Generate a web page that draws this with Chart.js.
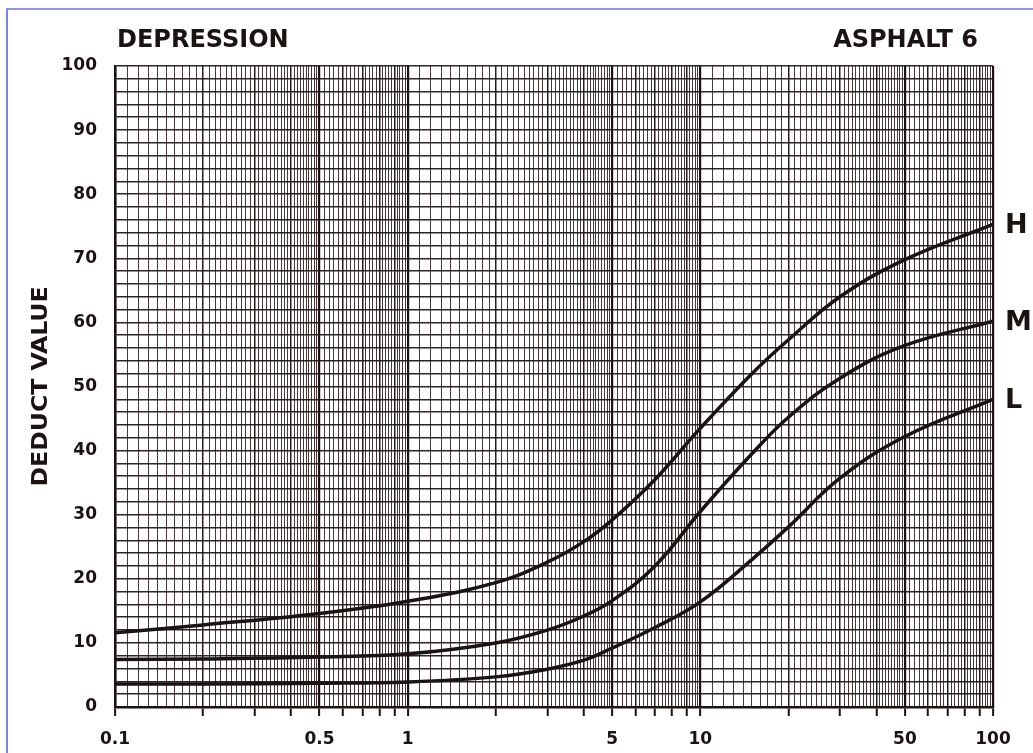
<!DOCTYPE html>
<html>
<head>
    <meta charset="utf-8">
    <title>Depression - Asphalt 6</title>
    <script src="https://cdn.jsdelivr.net/npm/chart.js@4.4.0/dist/chart.umd.min.js"></script>
    <style>
        html, body { margin: 0; padding: 0; background: #fff; }
        #wrap { position: relative; width: 1033px; height: 753px; }
        #frame { position: absolute; left: 6px; top: 8px; right: 0; bottom: 0; border-left: 2px solid #7684e4; border-top: 2px solid #8d97e6; pointer-events: none; }
    </style>
</head>
<body>
    <div id="wrap">
        <canvas id="myChart" width="1033" height="753"></canvas>
        <div id="frame"></div>
    </div>
    <script>
        // values
        const chartTitle = 'DEPRESSION';
        const chartNumber = 'ASPHALT 6';
        const yTitle = 'DEDUCT VALUE';
        const density = [0.1, 0.2, 0.5, 1, 2, 3, 4, 5, 7, 10, 15, 20, 30, 50, 100];
        const highValues = [11.6, 12.8, 14.6, 16.5, 19.4, 22.6, 25.8, 29.2, 35.5, 43.5, 52.0, 57.3, 64.0, 69.8, 75.3];
        const mediumValues = [7.4, 7.5, 7.8, 8.3, 10.0, 12.0, 14.2, 16.6, 22.0, 30.5, 39.5, 45.2, 51.3, 56.4, 60.2];
        const lowValues = [3.6, 3.6, 3.7, 3.9, 4.7, 5.9, 7.3, 9.2, 12.4, 16.4, 23.0, 28.1, 35.7, 42.2, 48.0];
        const seriesNames = ['H', 'M', 'L'];
        const xTickLabels = [0.1, 0.5, 1, 5, 10, 50, 100];
        const yTickLabels = [0, 10, 20, 30, 40, 50, 60, 70, 80, 90, 100];

        const ink = '#1b1212';
        const seriesValues = [highValues, mediumValues, lowValues];

        // log paper rulings
        const xGrid = [];
        [0.1, 1, 10].forEach(function (d) {
            for (let k = 10; k < 50; k++) xGrid.push(Number((k * d / 10).toFixed(4)));
            for (let k = 50; k < 100; k += 2) xGrid.push(Number((k * d / 10).toFixed(4)));
        });
        xGrid.push(100);

        const near = (a, b) => Math.abs(a - b) < 1e-9;
        const isLabeled = v => xTickLabels.some(t => near(t, v));
        const isWhole = function (v) {
            const d = Math.pow(10, Math.floor(Math.log10(v) + 1e-9));
            const m = v / d;
            return Math.abs(m - Math.round(m)) < 1e-6;
        };

        const sheetText = {
            id: 'sheetText',
            afterDraw(chart) {
                const ctx = chart.ctx, x = chart.scales.x, y = chart.scales.y;
                ctx.save();
                ctx.fillStyle = ink;
                ctx.textBaseline = 'middle';
                ctx.font = 'bold 24px "DejaVu Sans"';
                ctx.textAlign = 'left';
                ctx.fillText(chartTitle, x.left + 2, 41);
                ctx.textAlign = 'right';
                ctx.fillText(chartNumber, x.right - 15, 41);

                ctx.font = 'bold 27px "DejaVu Sans"';
                ctx.textAlign = 'left';
                seriesNames.forEach(function (name, i) {
                    const vals = seriesValues[i];
                    ctx.fillText(name, x.right + 12, y.getPixelForValue(vals[vals.length - 1]) + 2);
                });

                ctx.translate(42, (y.top + y.bottom) / 2);
                ctx.rotate(-Math.PI / 2);
                ctx.font = 'bold 21px "DejaVu Sans Condensed", "DejaVu Sans"';
                ctx.textAlign = 'center';
                const w = ctx.measureText(yTitle).width;
                ctx.scale(200 / w, 1);
                ctx.fillText(yTitle, 0, 0);
                ctx.restore();
            }
        };

        const datasets = seriesNames.map(function (name, i) {
            return {
                label: name,
                data: density.map((d, j) => ({ x: d, y: seriesValues[i][j] })),
                borderColor: ink,
                borderWidth: 3.5,
                pointRadius: 0,
                fill: false,
                tension: 0.4
            };
        });

        const config = {
            type: 'line',
            data: { datasets: datasets },
            options: {
                responsive: false,
                animation: false,
                layout: { padding: { top: 66, right: 40, left: 0, bottom: 0 } },
                plugins: { legend: { display: false }, tooltip: { enabled: false } },
                scales: {
                    x: {
                        type: 'logarithmic',
                        min: 0.1,
                        max: 100,
                        afterBuildTicks: function (scale) {
                            scale.ticks = xGrid.map(v => ({ value: v }));
                        },
                        afterFit: function (scale) { scale.height = 46; },
                        border: { color: ink, width: 2.5 },
                        grid: {
                            color: c => isLabeled(c.tick.value) ? ink : (isWhole(c.tick.value) ? 'rgba(28,18,18,0.95)' : 'rgba(45,30,30,0.88)'),
                            lineWidth: c => isLabeled(c.tick.value) ? 2.2 : (isWhole(c.tick.value) ? 1.5 : 1),
                            tickColor: c => isWhole(c.tick.value) ? ink : 'rgba(0,0,0,0)',
                            tickLength: 9,
                            tickWidth: 2
                        },
                        ticks: {
                            autoSkip: false,
                            maxRotation: 0,
                            padding: 13,
                            color: ink,
                            font: { family: '"DejaVu Sans"', weight: 'bold', size: 17 },
                            callback: function (value) {
                                const hit = xTickLabels.find(t => near(t, value));
                                return hit !== undefined ? String(hit) : '';
                            }
                        }
                    },
                    y: {
                        min: 0,
                        max: 100,
                        afterFit: function (scale) { scale.width = 115; },
                        border: { color: ink, width: 2.5 },
                        grid: {
                            color: 'rgba(28,18,18,0.92)',
                            lineWidth: 1.6,
                            drawTicks: false
                        },
                        ticks: {
                            stepSize: 2,
                            autoSkip: false,
                            padding: 18,
                            color: ink,
                            font: { family: '"DejaVu Sans"', weight: 'bold', size: 17 },
                            callback: v => yTickLabels.includes(v) ? String(v) : ''
                        }
                    }
                }
            },
            plugins: [sheetText]
        };

        const myChart = new Chart(document.getElementById('myChart'), config);
    </script>
</body>
</html>
